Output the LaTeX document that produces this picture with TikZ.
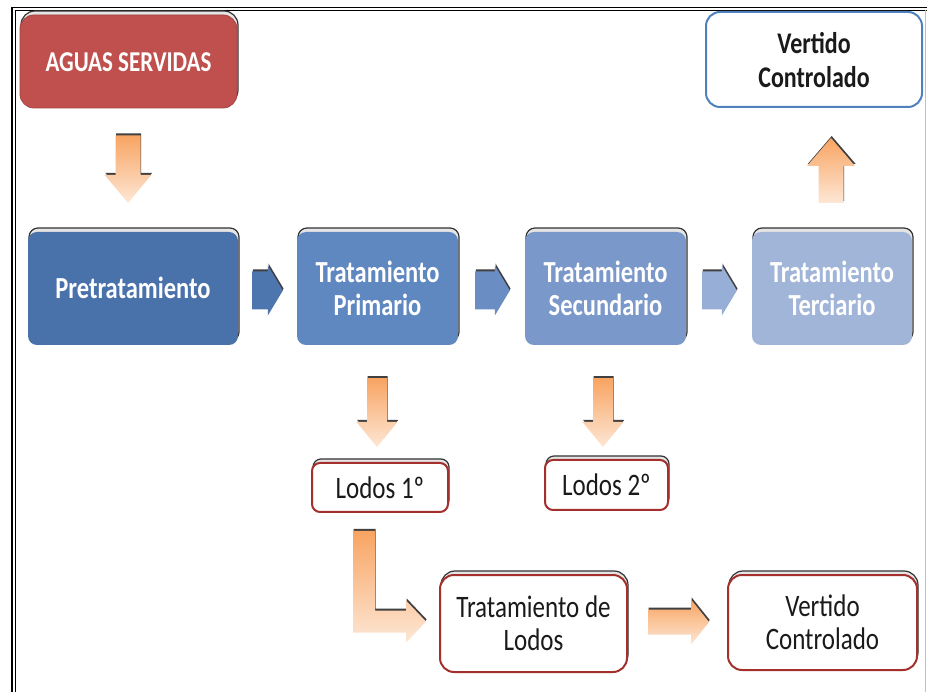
\documentclass[tikz,border=0pt]{standalone}
\usepackage{fontspec}
\setmainfont{Carlito}
\usepackage{graphicx}
\usetikzlibrary{calc,shadows}
\definecolor{servred}{HTML}{C0504D}
\definecolor{bdred}{HTML}{A3302D}
\definecolor{bdblue}{HTML}{4F81BD}
\definecolor{bpre}{HTML}{4A72AA}
\definecolor{bpri}{HTML}{5F87C0}
\definecolor{bsec}{HTML}{7B98CA}
\definecolor{bter}{HTML}{A1B5D8}
\definecolor{apre}{HTML}{4E76AE}
\definecolor{apri}{HTML}{6A8DC4}
\definecolor{asec}{HTML}{97AED6}
\definecolor{ptop}{HTML}{F8A462}
\definecolor{pbot}{HTML}{FDE7D5}
\definecolor{txt}{HTML}{1A1A1A}

\newcommand\stx[1]{\raisebox{-4pt}[\height][\depth]{\scalebox{1}[1.25]{\begin{tabular}{@{}c@{}}#1\end{tabular}}}}

% vertical block arrow: [style] start, end, shaft half, head half, signed head length
\newcommand\blkv[6][peach]{%
  \path[arrowshadow] let \p1=#2, \p2=#3 in (\x1-#4,\y1) -- (\x1+#4,\y1) -- (\x1+#4,\y2+#6) -- (\x1+#5,\y2+#6) -- (\x1,\y2) -- (\x1-#5,\y2+#6) -- (\x1-#4,\y2+#6) -- cycle;
  \path[#1] let \p1=#2, \p2=#3 in (\x1-#4,\y1) -- (\x1+#4,\y1) -- (\x1+#4,\y2+#6) -- (\x1+#5,\y2+#6) -- (\x1,\y2) -- (\x1-#5,\y2+#6) -- (\x1-#4,\y2+#6) -- cycle;}
% horizontal block arrow (to the right)
\newcommand\blkh[6][peach]{%
  \path[arrowshadow] let \p1=#2, \p2=#3 in (\x1,\y1-#4) -- (\x2-#6,\y1-#4) -- (\x2-#6,\y1-#5) -- (\x2,\y1) -- (\x2-#6,\y1+#5) -- (\x2-#6,\y1+#4) -- (\x1,\y1+#4) -- cycle;
  \path[#1] let \p1=#2, \p2=#3 in (\x1,\y1-#4) -- (\x2-#6,\y1-#4) -- (\x2-#6,\y1-#5) -- (\x2,\y1) -- (\x2-#6,\y1+#5) -- (\x2-#6,\y1+#4) -- (\x1,\y1+#4) -- cycle;}
% L-shaped block arrow: down then right
\newcommand\blkL[6][peach]{%
  \path[arrowshadow] let \p1=#2, \p2=#3 in (\x1-#4,\y1) -- (\x1+#4,\y1) -- (\x1+#4,\y2+#4) -- (\x2-#6,\y2+#4) -- (\x2-#6,\y2+#5) -- (\x2,\y2) -- (\x2-#6,\y2-#5) -- (\x2-#6,\y2-#4) -- (\x1-#4,\y2-#4) -- cycle;
  \path[#1] let \p1=#2, \p2=#3 in (\x1-#4,\y1) -- (\x1+#4,\y1) -- (\x1+#4,\y2+#4) -- (\x2-#6,\y2+#4) -- (\x2-#6,\y2+#5) -- (\x2,\y2) -- (\x2-#6,\y2-#5) -- (\x2-#6,\y2-#4) -- (\x1-#4,\y2-#4) -- cycle;}

\tikzset{
  boxshadow/.style={general shadow={shadow xshift=1pt, shadow yshift=4pt, fill=black!10, draw=black!80, line width=1.2pt}},
  stage/.style={rectangle, rounded corners=9pt, inner sep=0pt, minimum height=113pt, text=white,
    font=\fontsize{24.5}{26}\selectfont\bfseries, boxshadow},
  outbox/.style={rectangle, rounded corners=11pt, inner sep=0pt, fill=white, draw=bdred, line width=2pt,
    text=txt, font=\fontsize{25}{26}\selectfont, boxshadow},
  peach/.style={top color=ptop, bottom color=pbot},
  arrowshadow/.style={fill=black!75, transform canvas={xshift=0.7pt,yshift=2pt}},
}

\begin{document}
\begin{tikzpicture}[x=1pt,y=-1pt]
\useasboundingbox (0,0) rectangle (927,692);
\fill[white] (0,0) rectangle (927,692);

% frame
\draw[line width=1.6pt] (12,692) -- (12,7.5) -- (927,7.5);
\draw[line width=0.8pt] (15.5,692) -- (15.5,10.5) -- (927,10.5);
\draw[black!25, line width=1pt] (925,10.5) -- (925,692);

% nodes
\node[stage, fill=servred, draw=servred!85!black, line width=0.8pt, minimum width=217pt, minimum height=93pt,
  rounded corners=14pt, font=\fontsize{23}{26}\selectfont\bfseries] (serv) at (128.5,61.5) {\stx{AGUAS SERVIDAS}};
\node[rectangle, rounded corners=14pt, inner sep=0pt, fill=white, draw=bdblue, line width=2pt,
  minimum width=216pt, minimum height=95pt, text=txt, font=\fontsize{24}{27}\selectfont\bfseries] (vt) at (814,59.5) {\stx{Vertido\\Controlado}};

\node[stage, fill=bpre, minimum width=210pt] (pre) at (133,288.5) {\stx{Pretratamiento}};
\node[stage, fill=bpri, minimum width=161pt] (pri) at (377.5,288.5) {\stx{Tratamiento\\Primario}};
\node[stage, fill=bsec, minimum width=161pt] (sec) at (605.5,288.5) {\stx{Tratamiento\\Secundario}};
\node[stage, fill=bter, minimum width=160pt] (ter) at (832,288.5) {\stx{Tratamiento\\Terciario}};

\node[outbox, minimum width=136pt, minimum height=49pt, rounded corners=8pt] (l1) at (380,487.5) {\stx{Lodos 1º}};
\node[outbox, minimum width=123pt, minimum height=50pt, rounded corners=8pt] (l2) at (606.5,485) {\stx{Lodos 2º}};
\node[outbox, minimum width=187pt, minimum height=97pt, rounded corners=14pt] (tdl) at (533.5,623.5) {\stx{Tratamiento de\\Lodos}};
\node[outbox, minimum width=189pt, minimum height=95pt, rounded corners=14pt] (vb) at (822.5,622.5) {\stx{Vertido\\Controlado}};

% block arrows
\blkv{([xshift=-0.5pt,yshift=-27pt]serv.south)}{([yshift=29pt]pre.north)}{12.5pt}{23.5pt}{28pt}
\blkv{([xshift=-0.5pt,yshift=-33pt]pri.south)}{([yshift=15pt]l1.north)}{10pt}{20.5pt}{25pt}
\blkv{([xshift=-2.5pt,yshift=-33pt]sec.south)}{([yshift=12pt]l2.north)}{10pt}{20.5pt}{25pt}
\blkv{([xshift=-1pt,yshift=29pt]ter.north)}{([yshift=-30pt]vt.south)}{12.5pt}{24pt}{-28pt}

\blkh[fill=apre]{([xshift=14pt,yshift=-2pt]pre.east)}{([xshift=-14pt]pri.west)}{19pt}{25pt}{15pt}
\blkh[fill=apri]{([xshift=17pt,yshift=-2pt]pri.east)}{([xshift=-15pt]sec.west)}{19pt}{25pt}{15pt}
\blkh[fill=asec]{([xshift=16pt,yshift=-2pt]sec.east)}{([xshift=-15pt]ter.west)}{19pt}{25pt}{15pt}

\blkL{([xshift=-16pt,yshift=-18pt]l1.south)}{([xshift=-13pt,yshift=2pt]tdl.west)}{11pt}{21pt}{20pt}
\blkh{([xshift=20pt,yshift=1.5pt]tdl.east)}{([xshift=-18pt]vb.west)}{12.5pt}{22.5pt}{18pt}
\end{tikzpicture}
\end{document}
